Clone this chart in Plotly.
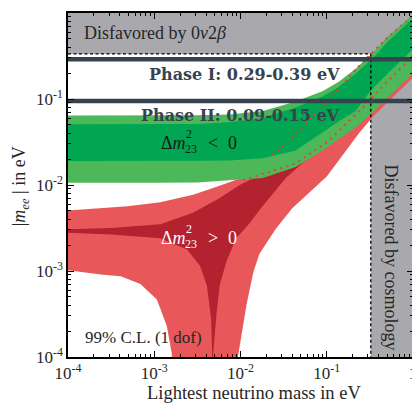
import numpy as np
import plotly.graph_objects as go

# ---------------- data (log10 of eV) ----------------
# Inverted ordering (green) band edges
io_x = [-4.0, -3.0, -2.5, -2.13, -1.74, -1.36, -1.05, -0.86, -0.67, -0.48, -0.29, 0.0]
io_outer_upper = [-1.192, -1.192, -1.188, -1.18, -1.14, -1.03, -0.91, -0.80, -0.65, -0.48, -0.27, -0.02]
io_inner_upper = [-1.295, -1.295, -1.29, -1.27, -1.22, -1.10, -0.97, -0.86, -0.71, -0.54, -0.33, -0.06]
io_inner_lower = [-1.722, -1.722, -1.718, -1.714, -1.69, -1.60, -1.39, -1.26, -1.143, -0.89, -0.70, -0.42]
io_outer_lower = [-1.974, -1.974, -1.97, -1.945, -1.92, -1.79, -1.60, -1.47, -1.333, -1.17, -0.98, -0.70]

# Normal ordering (red) outer band
no_outer_upper_x = [-4.0, -3.31, -2.93, -2.55, -2.276, -2.05, -1.6, -1.0, -0.5, 0.0]
no_outer_upper_y = [-2.297, -2.248, -2.20, -2.114, -2.02, -1.94, -1.75, -1.20, -0.60, -0.10]
no_outer_right_x = [0.0, -0.46, -0.62, -1.0, -1.4, -1.59, -1.78, -1.85, -1.93, -1.99, -2.03, -2.04]
no_outer_right_y = [-0.75, -1.20, -1.39, -1.90, -2.27, -2.51, -2.80, -3.01, -3.39, -3.74, -4.0, -4.3]
no_outer_left_x = [-2.79, -2.797, -2.854, -2.97, -3.16, -3.39, -3.62, -4.0]
no_outer_left_y = [-4.3, -3.96, -3.64, -3.33, -3.15, -3.06, -3.04, -2.99]

# Normal ordering (red) inner band
no_inner_upper_x = [-4.0, -3.5, -2.93, -2.55, -2.24, -2.01, -1.6, -1.0, -0.5, 0.0]
no_inner_upper_y = [-2.514, -2.50, -2.457, -2.323, -2.152, -2.00, -1.80, -1.35, -0.80, -0.30]
no_inner_right_x = [0.0, -0.5, -1.0, -1.475, -1.78, -1.89, -2.05, -2.16, -2.24, -2.276, -2.32, -2.32]
no_inner_right_y = [-0.60, -1.05, -1.50, -1.92, -2.29, -2.44, -2.62, -2.88, -3.16, -3.47, -4.0, -4.3]
no_inner_left_x = [-2.32, -2.34, -2.39, -2.47, -2.62, -2.93, -3.5, -4.0]
no_inner_left_y = [-4.3, -3.56, -3.17, -2.94, -2.75, -2.62, -2.575, -2.555]

# red dotted outlines over the green band
dot_upper_x = [-1.63, -1.36, -0.977, -0.594, -0.30, 0.0]
dot_upper_y = [-1.657, -1.41, -1.01, -0.58, -0.29, -0.03]
dot_lower_x = [-1.97, -1.36, -0.977, -0.594, -0.30, 0.0]
dot_lower_y = [-1.943, -1.75, -1.486, -1.11, -0.80, -0.50]

# limits (eV)
onubb_limit = 0.334
cosmo_limit = 0.324
phase1_level = 0.29
phase2_level = 0.095
x_min, x_max = 1e-4, 1.0
y_min, y_max = 1e-4, 1.0

x_tick_vals = [1e-4, 1e-3, 1e-2, 1e-1, 1]
x_tick_text = ["10<sup>-4</sup>", "10<sup>-3</sup>", "10<sup>-2</sup>", "10<sup>-1</sup>", "1"]
y_tick_vals = [1e-4, 1e-3, 1e-2, 1e-1, 1]
y_tick_text = ["10<sup>-4</sup>", "10<sup>-3</sup>", "10<sup>-2</sup>", "10<sup>-1</sup>", "1"]

# ---------------- colours ----------------
GRAY = "#a9a9ad"
LGREEN = "#4db85a"
DGREEN = "#00a651"
LRED = "#e8585a"
DRED = "#b3222f"
SLATE = "#36434f"
SERIF = "Liberation Serif, Times New Roman, serif"
BSERIF = "DejaVu Serif, serif"

def p(v):
    return list(10 ** np.asarray(v, dtype=float))

fig = go.Figure()

def band(xs, ys, color):
    fig.add_trace(go.Scatter(x=xs, y=ys, fill="toself", fillcolor=color, line=dict(width=0),
                             mode="lines", hoverinfo="skip", showlegend=False))

# gray disfavoured regions
band([x_min, x_max, x_max, x_min], [onubb_limit, onubb_limit, y_max, y_max], GRAY)
band([cosmo_limit, x_max, x_max, cosmo_limit], [y_min, y_min, y_max, y_max], GRAY)

# normal ordering
band(p(no_outer_upper_x + no_outer_right_x + no_outer_left_x),
     p(no_outer_upper_y + no_outer_right_y + no_outer_left_y), LRED)
band(p(no_inner_upper_x + no_inner_right_x + no_inner_left_x),
     p(no_inner_upper_y + no_inner_right_y + no_inner_left_y), DRED)

# inverted ordering
band(p(io_x + io_x[::-1]), p(io_outer_upper + io_outer_lower[::-1]), LGREEN)
band(p(io_x + io_x[::-1]), p(io_inner_upper + io_inner_lower[::-1]), DGREEN)

# red dotted outlines
for xs, ys in [(dot_upper_x, dot_upper_y), (dot_lower_x, dot_lower_y)]:
    fig.add_trace(go.Scatter(x=p(xs), y=p(ys), mode="lines",
                             line=dict(color="#f03a32", width=1.8, dash="2px,4.5px"),
                             hoverinfo="skip", showlegend=False))

# dashed limit lines
fig.add_trace(go.Scatter(x=[x_min, cosmo_limit, cosmo_limit], y=[onubb_limit, onubb_limit, y_min],
                         mode="lines", line=dict(color="black", width=1.3, dash="3px,2.5px"),
                         hoverinfo="skip", showlegend=False))

# experiment sensitivity lines
for lvl in [phase1_level, phase2_level]:
    fig.add_trace(go.Scatter(x=[x_min, x_max], y=[lvl, lvl], mode="lines",
                             line=dict(color=SLATE, width=4.5), hoverinfo="skip", showlegend=False))

# page body has an 8px margin -> figure is drawn offset by 8px
OFF = 8
W, H = 412, 396
L, R, T, B = 60, 5, 3, 47
PW, PH = W - L - R, H - T - B

def px(xs, ys):
    xf, yf = xs - OFF, ys - OFF
    return (xf - L) / PW, (H - B - yf) / PH

ann = []
def add_text(text, xs, ys, size, color="#262626", xanchor="center", yanchor="middle", angle=0,
             family=SERIF):
    x, y = px(xs, ys)
    ann.append(dict(text=text, x=x, y=y, xref="paper", yref="paper", showarrow=False,
                    xanchor=xanchor, yanchor=yanchor, textangle=angle,
                    font=dict(family=family, size=size, color=color)))

add_text("Disfavored by 0<i>ν</i>2<i>β</i>", 82, 31, 18, xanchor="left")
add_text("<b>Phase I: 0.29-0.39 eV</b>", 246, 73, 16, color=SLATE, family=BSERIF)
add_text("<b>Phase II: 0.09-0.15 eV</b>", 242, 114, 16, color=SLATE, family=BSERIF)
add_text("Disfavored by cosmology", 393, 257, 18, angle=90)
add_text("99% C.L. (1 dof)", 144, 337, 17)

# Δm^2_23 labels (stacked super/subscript)
for yc, sign, col in [(142, "&lt;", "#1a1a1a"), (237, "&gt;", "white")]:
    add_text("Δ<i>m</i>", 160, yc, 18, color=col, xanchor="left")
    add_text("2", 185, yc - 9, 12, color=col, xanchor="left")
    add_text("23", 184, yc + 6, 12, color=col, xanchor="left")
    add_text(sign, 207, yc, 18, color=col, xanchor="left")
    add_text("0", 227, yc, 18, color=col, xanchor="left")

add_text("|<i>m</i><sub><i>ee</i></sub> | in eV", 21, 185, 18, angle=-90)
add_text("Lightest neutrino mass in eV", 255, 393, 18.5)

minor_vals = [k * 10.0 ** d for d in range(-4, 0) for k in range(2, 10)]

axis_common = dict(type="log", showgrid=False, zeroline=False, showline=True, linecolor="black",
                   linewidth=1.5, mirror="allticks", ticks="inside", ticklen=6, tickwidth=1.2,
                   tickcolor="black", tickfont=dict(family=SERIF, size=17, color="#262626"),
                   minor=dict(tickmode="array", tickvals=minor_vals, ticks="inside", ticklen=3,
                              tickwidth=1, tickcolor="black", showgrid=False))

fig.update_layout(
    width=W, height=H, margin=dict(l=L, r=R, t=T, b=B),
    paper_bgcolor="white", plot_bgcolor="white", showlegend=False,
    annotations=ann,
    xaxis=dict(range=[-4, 0], tickmode="array", tickvals=x_tick_vals, ticktext=x_tick_text, **axis_common),
    yaxis=dict(range=[-4, 0], tickmode="array", tickvals=y_tick_vals, ticktext=y_tick_text, **axis_common),
)

fig.write_html("out.html")
